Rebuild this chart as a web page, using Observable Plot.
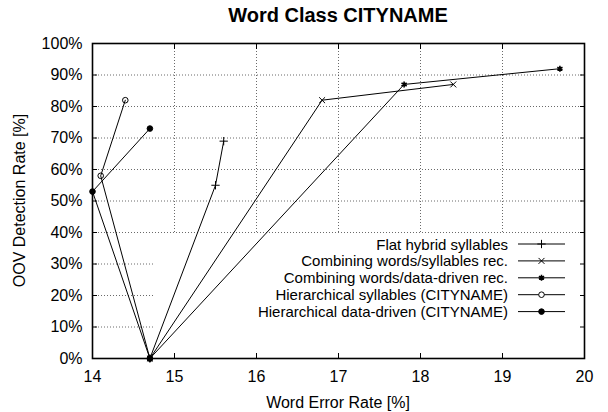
<!DOCTYPE html>
<html>
<head>
<meta charset="utf-8">
<script src="https://cdn.jsdelivr.net/npm/d3@7"></script>
<script src="https://cdn.jsdelivr.net/npm/@observablehq/plot@0.6"></script>
<style>
  html, body { margin: 0; padding: 0; background: #fff; }
  #wrap { position: relative; width: 608px; height: 412px; font-family: "Liberation Sans", Arial, Helvetica, sans-serif; }
  #wrap svg { position: absolute; left: 0; top: 0; }
</style>
</head>
<body>
<div id="wrap"></div>
<script>
// ---- data ----
const seriesNames = [
  "Flat hybrid syllables",
  "Combining words/syllables rec.",
  "Combining words/data-driven rec.",
  "Hierarchical syllables (CITYNAME)",
  "Hierarchical data-driven (CITYNAME)"
];
const seriesSymbols = ["plus", "times", "asterisk", "circle", "circle"];
const seriesFilled = [false, false, false, false, true];

const flatWER = [14.7, 15.5, 15.6];
const flatOOV = [0, 55, 69];
const combSylWER = [14.7, 16.8, 18.4];
const combSylOOV = [0, 82, 87];
const combDDWER = [14.7, 17.8, 19.7];
const combDDOOV = [0, 87, 92];
const hierSylWER = [14.7, 14.1, 14.4];
const hierSylOOV = [0, 58, 82];
const hierDDWER = [14.7, 14.0, 14.7];
const hierDDOOV = [0, 53, 73];

const xTicks = [14, 15, 16, 17, 18, 19, 20];
const yTicks = [0, 10, 20, 30, 40, 50, 60, 70, 80, 90, 100];

const titleText = "Word Class CITYNAME";
const xLabel = "Word Error Rate [%]";
const yLabel = "OOV Detection Rate [%]";

// ---- build table ----
const wers = [flatWER, combSylWER, combDDWER, hierSylWER, hierDDWER];
const oovs = [flatOOV, combSylOOV, combDDOOV, hierSylOOV, hierDDOOV];
const table = [];
seriesNames.forEach((name, i) => {
  wers[i].forEach((w, j) => table.push({series: name, idx: i, wer: w, oov: oovs[i][j]}));
});

// legend box region (grid hidden behind it), in data units
const legendLeft = 14.76, legendTop = 40;

const W = 608, H = 412;
const mL = 92, mR = 24, mT = 43, mB = 54;
const font = 16;
const tick = 5;
const dotR = 2.8;
const gridStyle = {stroke: "#444", strokeWidth: 0.8, strokeDasharray: "1,2"};

const marks = [
  // grid
  Plot.ruleY(yTicks.filter(v => v >= legendTop && v < 100), {y: d => d, ...gridStyle}),
  Plot.ruleY(yTicks.filter(v => v > 0 && v < legendTop), {y: d => d, x1: xTicks[0], x2: legendLeft, ...gridStyle}),
  Plot.ruleX(xTicks.slice(1, -1), {x: d => d, y1: legendTop, y2: 100, ...gridStyle}),
  // axes (inward ticks, mirrored)
  Plot.axisX({ticks: xTicks, tickSize: -tick, tickPadding: 17, fontSize: font, label: null, tickFormat: d => String(d)}),
  Plot.axisX({anchor: "top", ticks: xTicks, tickSize: -tick, label: null, tickFormat: () => ""}),
  Plot.axisY({ticks: yTicks, tickSize: -tick, tickPadding: 15, fontSize: font, label: null, tickFormat: d => d + "%"}),
  Plot.axisY({anchor: "right", ticks: yTicks, tickSize: -tick, label: null, tickFormat: () => ""}),
  // lines
  Plot.line(table, {x: "wer", y: "oov", z: "series", stroke: "black", strokeWidth: 1}),
];
seriesNames.forEach((name, i) => {
  marks.push(Plot.dot(table.filter(d => d.idx === i), {
    x: "wer", y: "oov", r: dotR,
    symbol: () => seriesSymbols[i],
    stroke: "black", strokeWidth: seriesSymbols[i] === "asterisk" ? 1.6 : 1,
    fill: seriesFilled[i] ? "black" : "none"
  }));
});
marks.push(Plot.frame({stroke: "black", strokeWidth: 1.6}));

const chart = Plot.plot({
  width: W, height: H,
  marginLeft: mL, marginRight: mR, marginTop: mT, marginBottom: mB,
  style: {fontFamily: '"Liberation Sans", Arial, sans-serif', fontSize: font + "px", color: "black", background: "transparent"},
  x: {domain: [xTicks[0], xTicks[xTicks.length - 1]]},
  y: {domain: [yTicks[0], yTicks[yTicks.length - 1]]},
  symbol: {type: "identity"},
  marks
});
const wrap = document.getElementById("wrap");
wrap.appendChild(chart);

// ---- overlay: title, axis labels, legend ----
const ov = d3.select(wrap).append("svg")
  .attr("width", W).attr("height", H)
  .style("font-family", '"Liberation Sans", Arial, sans-serif')
  .style("pointer-events", "none");

const plotCX = (mL + W - mR) / 2;
ov.append("text").attr("x", plotCX).attr("y", 15).attr("text-anchor", "middle")
  .attr("dominant-baseline", "central").attr("font-weight", "bold").attr("font-size", 20)
  .text(titleText);
ov.append("text").attr("x", plotCX).attr("y", 402).attr("text-anchor", "middle")
  .attr("dominant-baseline", "central").attr("font-size", font).text(xLabel);
ov.append("text").attr("transform", `translate(19,${(mT + H - mB) / 2}) rotate(-90)`)
  .attr("text-anchor", "middle").attr("dominant-baseline", "central").attr("font-size", font).text(yLabel);

const symMap = {plus: d3.symbolPlus, times: d3.symbolTimes, asterisk: d3.symbolAsterisk, circle: d3.symbolCircle};
const legTextX = 508, legLineX1 = 518, legLineX2 = 565, legY0 = 244, legDY = 16.9, legFont = 15;
seriesNames.forEach((name, i) => {
  const y = legY0 + i * legDY;
  ov.append("text").attr("x", legTextX).attr("y", y).attr("text-anchor", "end")
    .attr("dominant-baseline", "central").attr("font-size", legFont).text(name);
  ov.append("line").attr("x1", legLineX1).attr("x2", legLineX2).attr("y1", y).attr("y2", y)
    .attr("stroke", "black").attr("stroke-width", 1);
  ov.append("path").attr("transform", `translate(${(legLineX1 + legLineX2) / 2},${y})`)
    .attr("d", d3.symbol(symMap[seriesSymbols[i]], dotR * dotR * Math.PI)())
    .attr("stroke", "black").attr("stroke-width", seriesSymbols[i] === "asterisk" ? 1.6 : 1)
    .attr("fill", seriesFilled[i] ? "black" : (seriesSymbols[i] === "circle" ? "white" : "none"));
});
</script>
</body>
</html>
